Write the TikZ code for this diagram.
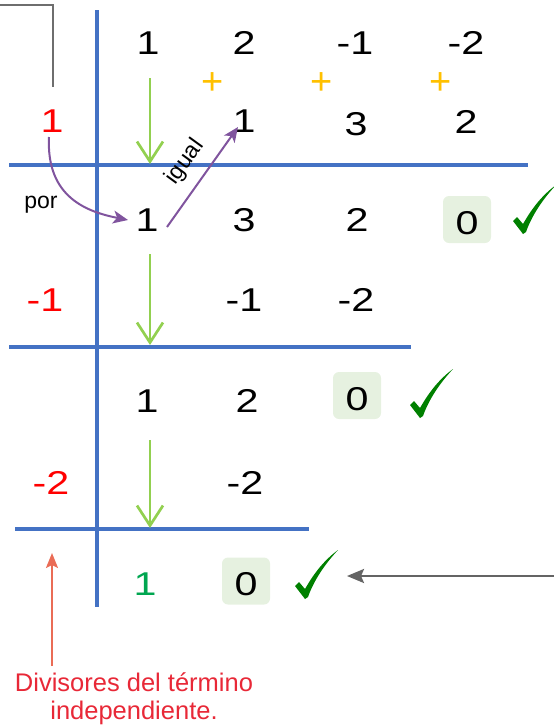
\documentclass[tikz,border=0pt]{standalone}
\usepackage{fontspec}
\setmainfont{Liberation Sans}
\newfontfamily\numfont[FakeStretch=1.25]{Liberation Sans}
\usetikzlibrary{arrows.meta}
\definecolor{gridblue}{RGB}{68,114,196}
\definecolor{downgreen}{RGB}{146,208,80}
\definecolor{purp}{RGB}{128,84,158}
\definecolor{plusyellow}{RGB}{255,192,0}
\definecolor{boxgreen}{RGB}{230,241,224}
\definecolor{checkgreen}{RGB}{0,128,0}
\definecolor{numred}{RGB}{255,0,0}
\definecolor{numgreen}{RGB}{0,166,80}
\definecolor{notered}{RGB}{232,40,55}
\definecolor{salmon}{RGB}{234,108,86}
\definecolor{darkgray}{RGB}{100,100,100}
\definecolor{lightgray}{RGB}{110,110,110}
\tikzset{
  checkmark/.pic={\fill[checkgreen] (-10,-11) -- (-6,-15) -- (0,-8)
     .. controls (8,-22) and (18,-36) .. (33,-47)
     .. controls (20,-33) and (9,-17) .. (3,0) -- (0,2) -- cycle;}
}
\begin{document}
\begin{tikzpicture}[x=1pt,y=-1pt,
  num/.style={inner sep=0pt, font=\numfont\fontsize{33}{36}\selectfont},
  rednum/.style={num, text=numred},
  plussign/.style={inner sep=0pt, text=plusyellow, font=\fontsize{38}{40}\selectfont},
  zerobox/.style={num, fill=boxgreen, rounded corners=6pt, minimum width=48pt,
     text height=38.3pt, text depth=8.7pt},
  gridline/.style={gridblue, line width=4pt},
  downarrow/.style={downgreen, line width=2.7pt, -{Straight Barb[length=20pt,width=26pt,line width=2.7pt]}},
  purparrow/.style={purp, line width=2pt, -{Stealth[length=15pt,width=13pt,inset=4pt]}},
  smalltext/.style={inner sep=0pt, font=\fontsize{23}{26}\selectfont}
]
\path[use as bounding box] (0,0) rectangle (554,726);

% top-left gray bracket
\coordinate (g1) at (0,5);
\coordinate (g2) at (53,5);
\coordinate (g3) at (53,87);
\draw[lightgray, line width=2pt] (g1) -- (g2) -- (g3);

% grid lines
\coordinate (vt) at (97,10);
\coordinate (vb) at (97,607);
\draw[gridline] (vt) -- (vb);
\coordinate (h1a) at (9,164.5);
\coordinate (h1b) at (528,164.5);
\coordinate (h2a) at (9,347);
\coordinate (h2b) at (411,347);
\coordinate (h3a) at (15,529);
\coordinate (h3b) at (309,529);
\draw[gridline] (h1a) -- (h1b);
\draw[gridline] (h2a) -- (h2b);
\draw[gridline] (h3a) -- (h3b);

% row 1 coefficients
\node[num] (a1) at (148,43) {1};
\node[num] (a2) at (244,43) {2};
\node[num] (a3) at (355,43) {-1};
\node[num] (a4) at (466,43) {-2};
\node[plussign] (p1) at (213,84) {+};
\node[plussign] (p2) at (322,84) {+};
\node[plussign] (p3) at (441,84) {+};

% row 2
\node[rednum] (d1) at (52,121) {1};
\node[num] (b2) at (244,121) {1};
\node[num] (b3) at (356,124) {3};
\node[num] (b4) at (466,122) {2};

% row 3
\node[num] (c1) at (147,220) {1};
\node[num] (c2) at (244,220) {3};
\node[num] (c3) at (357,220) {2};
\node[zerobox] (c4) at (467,219.5) {0};
\pic (k1) at (523,232) {checkmark};

% row 4
\node[rednum] (d2) at (45,300) {-1};
\node[num] (e2) at (244,300) {-1};
\node[num] (e3) at (356,300) {-2};

% row 5
\node[num] (f1) at (147,401) {1};
\node[num] (f2) at (247,401) {2};
\node[zerobox] (f3) at (357,395.5) {0};
\pic (k2) at (420,416) {checkmark};

% row 6
\node[rednum] (d3) at (51,483) {-2};
\node[num] (g2n) at (245,483) {-2};

% row 7
\node[num, text=numgreen] (h1) at (145,584) {1};
\node[zerobox] (h2) at (246,581) {0};
\pic (k3) at (305,597) {checkmark};

% green down arrows
\coordinate (ga1) at (150,78);
\coordinate (gb1) at (150,164);
\coordinate (ga2) at (150,254);
\coordinate (gb2) at (150,345);
\coordinate (ga3) at (150,440);
\coordinate (gb3) at (150,528);
\draw[downarrow] (ga1) -- (gb1);
\draw[downarrow] (ga2) -- (gb2);
\draw[downarrow] (ga3) -- (gb3);

% purple "por" curve
\coordinate (pa) at (49,137);
\coordinate (pb) at (128,220);
\draw[purparrow] (pa) .. controls (46,198) and (88,212) .. (pb);
\node[smalltext] (por) at (41,205) {por};

% purple "igual" arrow
\coordinate (ia) at (167,227);
\coordinate (ib) at (238,127);
\draw[purparrow] (ia) -- (ib);
\node[smalltext, rotate=54] (igual) at (185,162) {igual};

% gray arrow at bottom right
\coordinate (ra) at (554,576);
\coordinate (rb) at (347,576);
\draw[darkgray, line width=2.5pt, -{Stealth[length=17pt,width=14pt,inset=3pt]}] (ra) -- (rb);

% salmon arrow
\coordinate (sa) at (52,666);
\coordinate (sb) at (52,553);
\draw[salmon, line width=2pt, -{Stealth[length=15pt,width=12pt,inset=3pt]}] (sa) -- (sb);

\node[inner sep=0pt, anchor=north, align=center, text=notered,
  font=\fontsize{25.5}{28}\selectfont] (note) at (134,673)
  {Divisores del término\\independiente.};
\end{tikzpicture}
\end{document}
